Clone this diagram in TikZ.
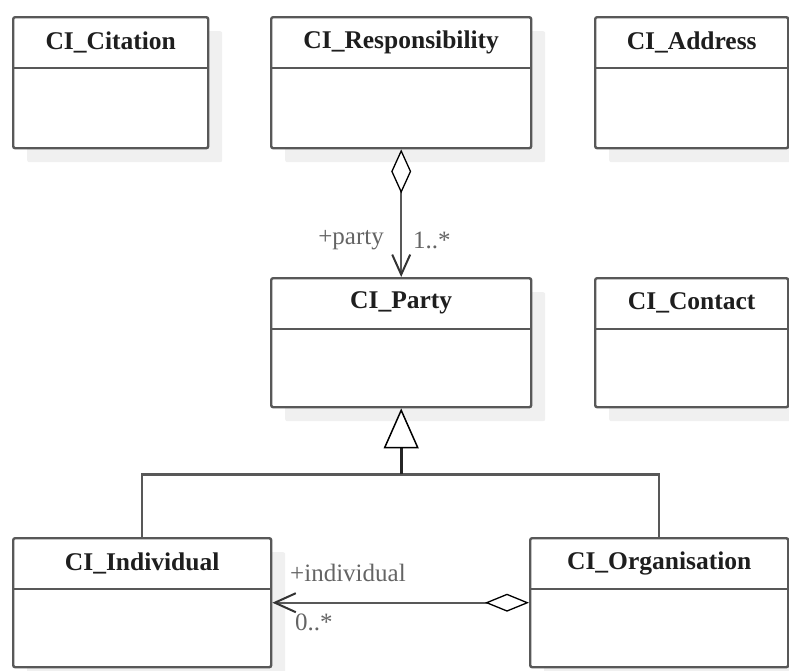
\documentclass[tikz,border=0pt]{standalone}
\usepackage{fontspec}
\setmainfont{Liberation Serif}
\usetikzlibrary{arrows.meta,calc,shadows}
\definecolor{boxc}{RGB}{88,88,88}
\definecolor{shadc}{RGB}{240,240,240}
\definecolor{labc}{RGB}{100,100,100}
\definecolor{titc}{RGB}{30,30,30}
\tikzset{
  classbox/.style={draw=boxc, line width=2.4pt, fill=white, rounded corners=2pt,
    anchor=north west, inner sep=0pt,
    general shadow={fill=shadc, shadow xshift=14pt, shadow yshift=-14pt}},
  divline/.style={draw=boxc, line width=2.4pt},
  ctitle/.style={font=\fontsize{25.5}{28}\selectfont\bfseries, text=titc, inner sep=0pt},
  conn/.style={draw=boxc, line width=2.4pt},
  rlabel/.style={font=\fontsize{25}{28}\selectfont, text=labc, inner sep=0pt},
  aggdiamond/.style={Diamond[fill=white, length=44pt, width=19pt, color=black, line width=1.3pt]},
}
\newcommand\umlcls[6]{%
  \node[classbox, minimum width=#4-#2, minimum height=#5-#3] (#1) at (#2,#3) {};
  \node[ctitle] (#1-t) at ($(#1.north)+(0,26)$) {#6};
  \draw[divline] ($(#1.north west)+(0,52)$) -- ($(#1.north east)+(0,52)$);
}
\begin{document}
\begin{tikzpicture}[x=1pt,y=-1pt]
\useasboundingbox (0,0) rectangle (789,670);
\umlcls{cit}{12}{16}{207}{147}{CI\_Citation}
\umlcls{resp}{270}{16}{530}{147}{CI\_Responsibility}
\umlcls{addr}{594}{16}{787}{147}{CI\_Address}
\umlcls{party}{270}{277}{530}{406}{CI\_Party}
\umlcls{cont}{594}{277}{787}{406}{CI\_Contact}
\umlcls{ind}{12}{537}{270}{666}{CI\_Individual}
\umlcls{org}{529}{537}{787}{666}{CI\_Organisation}
% aggregation Responsibility -> Party
\draw[conn, {Diamond[fill=white, length=44pt, width=20pt, color=black, line width=1.3pt]}-{Straight Barb[length=20pt, width=18pt, color=black!80, line width=2pt]}] (resp.south) -- (party.north);
\node[rlabel, anchor=east] (lparty) at (384,240) {+party};
\node[rlabel, anchor=west] (lmul1) at (413,240) {1..*};
% generalization
\coordinate (gj) at ($(party.south)+(0,66)$);
\draw[conn] (ind.north) |- (gj) -| (org.north);
\draw[line width=2.6pt, draw=black!85, -{Triangle[fill=white, length=40pt, width=35pt, color=black, line width=1.5pt]}] (gj) -- (party.south);
% aggregation Organisation -> Individual
\draw[conn, {Diamond[fill=white, length=44pt, width=18pt, color=black, line width=1.3pt]}-{Straight Barb[length=21pt, width=19pt, color=black!80, line width=2pt]}] (org.west) -- (ind.east);
\node[rlabel, anchor=west] (lind) at (290,573) {+individual};
\node[rlabel, anchor=west] (lmul2) at (295,622) {0..*};
\end{tikzpicture}
\end{document}
